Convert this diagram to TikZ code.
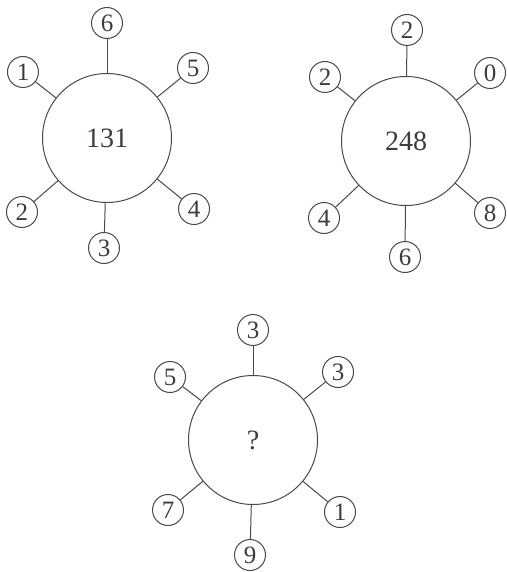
\documentclass[tikz,border=0pt]{standalone}
\usepackage{fontspec}
\setmainfont{Liberation Serif}
\definecolor{ink}{RGB}{70,74,74}
\definecolor{txt}{RGB}{55,62,60}
\tikzset{
  big/.style={circle,draw=ink,line width=1pt,minimum size=129pt,inner sep=0pt,text=txt,font=\fontsize{28}{28}\selectfont},
  small/.style={circle,draw=ink,line width=1pt,minimum size=31pt,inner sep=0pt,text=txt,font=\fontsize{25}{25}\selectfont},
  spoke/.style={draw=ink,line width=1pt}
}
\begin{document}
\begin{tikzpicture}[x=1pt,y=-1pt]
\useasboundingbox (0,0) rectangle (506,572);
% figure 1
\node[big] (A) at (107,138) {131};
\node[small] (A1) at (107,23) {6};
\node[small] (A2) at (23,72) {1};
\node[small] (A3) at (193,68) {5};
\node[small] (A4) at (22,212) {2};
\node[small] (A5) at (194,209) {4};
\node[small] (A6) at (104,248) {3};
\foreach \i in {1,...,6} \draw[spoke] (A) -- (A\i);
% figure 2
\node[big] (B) at (406,141) {248};
\node[small] (B1) at (407,30) {2};
\node[small] (B2) at (325,77) {2};
\node[small] (B3) at (490,73) {0};
\node[small] (B4) at (324,218) {4};
\node[small] (B5) at (490,213) {8};
\node[small] (B6) at (405,257) {6};
\foreach \i in {1,...,6} \draw[spoke] (B) -- (B\i);
% figure 3
\node[big] (C) at (253,440) {?};
\node[small] (C1) at (253,330) {3};
\node[small] (C2) at (170,377) {5};
\node[small] (C3) at (338,372) {3};
\node[small] (C4) at (168,510) {7};
\node[small] (C5) at (340,512) {1};
\node[small] (C6) at (250,555) {9};
\foreach \i in {1,...,6} \draw[spoke] (C) -- (C\i);
\end{tikzpicture}
\end{document}
